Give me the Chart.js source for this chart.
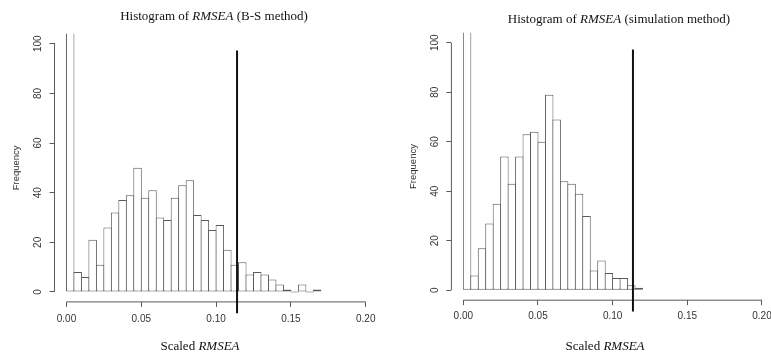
<!DOCTYPE html>
<html lang="en">
<head>
<meta charset="UTF-8">
<title>Histograms of RMSEA</title>
<script src="https://cdn.jsdelivr.net/npm/chart.js"></script>
<style>
  body { margin: 0; width: 771px; height: 358px; overflow: hidden; background: #fff; position: relative; }
  canvas { position: absolute; top: 0; }
  #bsChart { left: 0; }
  #simChart { left: 390px; }
</style>
</head>
<body>
<canvas id="bsChart" width="390" height="358"></canvas>
<canvas id="simChart" width="390" height="358"></canvas>
<script>
// bin midpoints (bin width 0.005)
const binMids = [0.0025, 0.0075, 0.0125, 0.0175, 0.0225, 0.0275, 0.0325, 0.0375, 0.0425, 0.0475,
                 0.0525, 0.0575, 0.0625, 0.0675, 0.0725, 0.0775, 0.0825, 0.0875, 0.0925, 0.0975,
                 0.1025, 0.1075, 0.1125, 0.1175, 0.1225, 0.1275, 0.1325, 0.1375, 0.1425, 0.1475,
                 0.1525, 0.1575, 0.1625, 0.1675];
// first bin runs off the top of the plot in both panels
const bsCounts = [319, 8, 6, 21, 11, 26, 32, 37, 39, 50, 38, 41, 30, 29, 38, 43, 45, 31, 29, 25,
                  27, 17, 11, 12, 7, 8, 7, 5, 3, 1, 0, 3, 0, 1];
const simCounts = [233, 6, 17, 27, 35, 54, 43, 54, 63, 64, 60, 79, 69, 44, 43, 39, 30, 8, 12, 7,
                   5, 5, 2, 1];
const xTicks = [0, 0.05, 0.10, 0.15, 0.20];
const yTicks = [0, 20, 40, 60, 80, 100];
const bsCutoff = 0.114;
const simCutoff = 0.1136;
const cutoffSpan = [-8.6, 97.3];

const xRange = [-0.008, 0.208];
const yRange = [-4, 104];

const textPlugin = {
  id: 'rText',
  afterDraw(chart, args, opts) {
    const ctx = chart.ctx;
    opts.items.forEach(item => {
      ctx.save();
      ctx.fillStyle = '#111';
      ctx.textBaseline = 'alphabetic';
      const fonts = item.parts.map(p => (p[1] ? 'italic ' : '') + item.size + 'px "Liberation Serif", "Times New Roman", serif');
      let total = 0;
      const widths = item.parts.map((p, i) => {
        ctx.font = fonts[i];
        const w = ctx.measureText(p[0]).width;
        total += w;
        return w;
      });
      let x = item.cx - total / 2;
      item.parts.forEach((p, i) => {
        ctx.font = fonts[i];
        ctx.fillText(p[0], x, item.y);
        x += widths[i];
      });
      ctx.restore();
    });
  }
};

const axisGrey = '#5a5a5a';
const tickFont = { family: '"Liberation Sans", Arial, sans-serif', size: 10 };

function makeChart(id, counts, cutoff, box, titleParts) {
  const bars = counts.map((c, i) => ({ x: binMids[i], y: c }));
  const ctx = document.getElementById(id).getContext('2d');
  return new Chart(ctx, {
    type: 'bar',
    data: {
      datasets: [
        {
          type: 'line', data: [{ x: cutoff, y: cutoffSpan[0] }, { x: cutoff, y: cutoffSpan[1] }],
          borderColor: '#111', borderWidth: 2, pointRadius: 0, fill: false, clip: false, order: 0
        },
        {
          type: 'line', data: [{ x: xTicks[0], y: yRange[0] }, { x: xTicks[xTicks.length - 1], y: yRange[0] }],
          borderColor: axisGrey, borderWidth: 1, pointRadius: 0, fill: false, clip: false, order: 1
        },
        {
          type: 'line', data: [{ x: xRange[0], y: yTicks[0] }, { x: xRange[0], y: yTicks[yTicks.length - 1] }],
          borderColor: axisGrey, borderWidth: 1, pointRadius: 0, fill: false, clip: false, order: 1
        },
        {
          type: 'bar', data: bars, backgroundColor: '#fff', borderColor: axisGrey, borderWidth: 1,
          borderSkipped: false, barPercentage: 1.134, categoryPercentage: 1, minBarLength: 1, order: 2
        }
      ]
    },
    options: {
      responsive: false,
      animation: false,
      layout: { padding: { left: 0, right: box.right, top: box.top, bottom: 0 } },
      plugins: {
        legend: { display: false },
        tooltip: { enabled: false },
        rText: { items: [
          { parts: titleParts, size: 13, cx: box.titleX, y: box.titleY },
          { parts: [['Scaled ', false], ['RMSEA', true]], size: 13, cx: box.labelX, y: 350 }
        ] }
      },
      scales: {
        x: {
          type: 'linear', min: xRange[0], max: xRange[1], offset: false,
          afterBuildTicks: s => { s.ticks = xTicks.map(v => ({ value: v })); },
          afterFit: s => { s.height = box.xh; },
          grid: { drawOnChartArea: false, drawTicks: true, tickLength: 5, tickColor: axisGrey, offset: false },
          border: { display: false },
          ticks: { font: tickFont, color: '#333', padding: box.xpad, maxRotation: 0,
                   callback: v => v.toFixed(2) }
        },
        y: {
          type: 'linear', min: yRange[0], max: yRange[1],
          afterBuildTicks: s => { s.ticks = yTicks.map(v => ({ value: v })); },
          afterFit: s => { s.width = box.yw; },
          grid: { drawOnChartArea: false, drawTicks: true, tickLength: 5, tickColor: axisGrey },
          border: { display: false },
          ticks: { font: tickFont, color: '#333', padding: 2.5, minRotation: 90, maxRotation: 90, crossAlign: 'center' },
          title: { display: true, text: 'Frequency', color: '#333',
                   font: { family: '"Liberation Sans", Arial, sans-serif', size: 9.5 },
                   padding: { top: box.ftPad, bottom: 0 } }
        }
      }
    },
    plugins: [textPlugin]
  });
}

makeChart('bsChart', bsCounts, bsCutoff,
  { right: 12.3, top: 33.8, yw: 54.5, xh: 56.1, xpad: 6.5, ftPad: 10.3, titleX: 214, titleY: 20, labelX: 200 },
  [['Histogram of ', false], ['RMSEA', true], [' (B-S method)', false]]);

makeChart('simChart', simCounts, simCutoff,
  { right: 6.1, top: 32.8, yw: 61.4, xh: 57.8, xpad: 5, ftPad: 17.6, titleX: 229, titleY: 22.5, labelX: 215 },
  [['Histogram of ', false], ['RMSEA', true], [' (simulation method)', false]]);
</script>
</body>
</html>
